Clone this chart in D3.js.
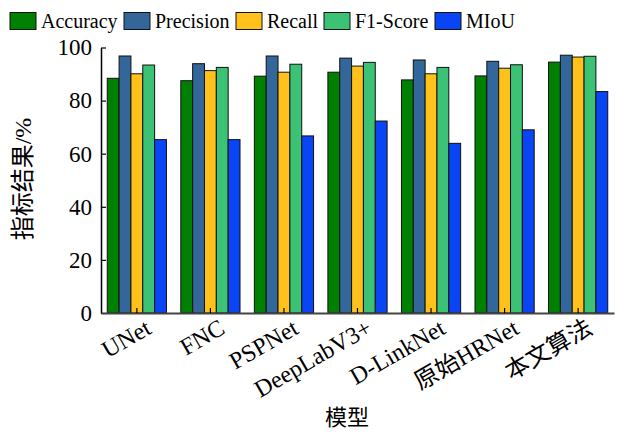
<!DOCTYPE html>
<html>
<head>
<meta charset="utf-8">
<script src="https://cdn.jsdelivr.net/npm/d3@7/dist/d3.min.js"></script>
<style>
  html, body { margin: 0; padding: 0; background: #fff; }
  svg text { font-family: "Liberation Serif", "Times New Roman", "Noto Sans CJK SC", serif; fill: #000; }
</style>
</head>
<body>
<svg id="chart" width="624" height="432"></svg>
<script>
// Models compared on the x axis
const models = ["UNet", "FNC", "PSPNet", "DeepLabV3+", "D-LinkNet", "原始HRNet", "本文算法"];
// Metric series
const metrics = ["Accuracy", "Precision", "Recall", "F1-Score", "MIoU"];
const accuracy  = [88.4, 87.5, 89.2, 90.7, 87.8, 89.3, 94.5];
const precision = [96.8, 93.9, 96.8, 96.0, 95.3, 94.8, 97.1];
const recall    = [90.1, 91.3, 90.7, 93.0, 90.1, 92.2, 96.4];
const f1score   = [93.4, 92.5, 93.7, 94.4, 92.5, 93.5, 96.7];
const miou      = [65.3, 65.3, 66.7, 72.3, 63.9, 69.0, 83.4];
const colors = ["#008000", "#336699", "#ffc11a", "#3cc274", "#0a45f5"];
const yTicks = [0, 20, 40, 60, 80, 100];

const seriesValues = [accuracy, precision, recall, f1score, miou];

const svg = d3.select("#chart");
const x0 = 101, x1 = 614, yTop = 47.5, yBot = 313;

const x = d3.scaleBand().domain(models).range([x0, x1]).paddingInner(0.195).paddingOuter(0.085);
const xs = d3.scaleBand().domain(metrics).range([0, x.bandwidth()]);
const y = d3.scaleLinear().domain([0, 100]).range([yBot, yTop]);

// Bars
const groups = svg.append("g").selectAll("g")
  .data(models).join("g")
  .attr("transform", d => `translate(${x(d)},0)`);

groups.selectAll("rect")
  .data((m, i) => metrics.map((k, j) => ({ key: k, j, v: seriesValues[j][i] })))
  .join("rect")
  .attr("x", d => xs(d.key))
  .attr("y", d => y(d.v))
  .attr("width", xs.bandwidth())
  .attr("height", d => y(0) - y(d.v))
  .attr("fill", d => colors[d.j])
  .attr("stroke", "#111")
  .attr("stroke-width", 1);

// Y axis with inward ticks
const yAxis = svg.append("g")
  .attr("transform", `translate(${x0},0)`)
  .call(d3.axisLeft(y).tickValues(yTicks).tickSizeInner(-5).tickSizeOuter(0).tickPadding(9));
yAxis.attr("font-family", null);
yAxis.select(".domain").attr("stroke", "#000").attr("stroke-width", 1.5);
yAxis.selectAll(".tick line").attr("stroke", "#000").attr("stroke-width", 1.2);
yAxis.selectAll("text").attr("font-size", 23).attr("font-weight", "normal");

// X axis with inward ticks at group centres
const xAxis = svg.append("g")
  .attr("transform", `translate(0,${yBot})`)
  .call(d3.axisBottom(x).tickSizeInner(-5).tickSizeOuter(0));
xAxis.attr("font-family", null);
xAxis.select(".domain").attr("stroke", "#444").attr("stroke-width", 2);
xAxis.selectAll(".tick line").attr("stroke", "#000").attr("stroke-width", 1.2);
xAxis.selectAll(".tick text")
  .attr("font-size", 24)
  .attr("text-anchor", "end")
  .attr("transform", "translate(7,4) rotate(-30)")
  .attr("x", 0).attr("y", 0).attr("dy", "0.75em");

// Axis titles
svg.append("text")
  .attr("x", 347).attr("y", 425)
  .attr("text-anchor", "middle")
  .attr("font-size", 22)
  .text("模型");

svg.append("text")
  .attr("transform", `translate(31,179) rotate(-90)`)
  .attr("text-anchor", "middle")
  .attr("font-size", 24)
  .text("指标结果/%");

// Legend
const legendX = [10, 124, 236, 324, 435];
const legend = svg.append("g").selectAll("g").data(metrics).join("g")
  .attr("transform", (d, i) => `translate(${legendX[i]},12.5)`);
legend.append("rect")
  .attr("width", 26).attr("height", 17)
  .attr("fill", (d, i) => colors[i])
  .attr("stroke", "#111").attr("stroke-width", 1);
legend.append("text")
  .attr("x", 31).attr("y", 15)
  .attr("font-size", 20)
  .text(d => d);
</script>
</body>
</html>
